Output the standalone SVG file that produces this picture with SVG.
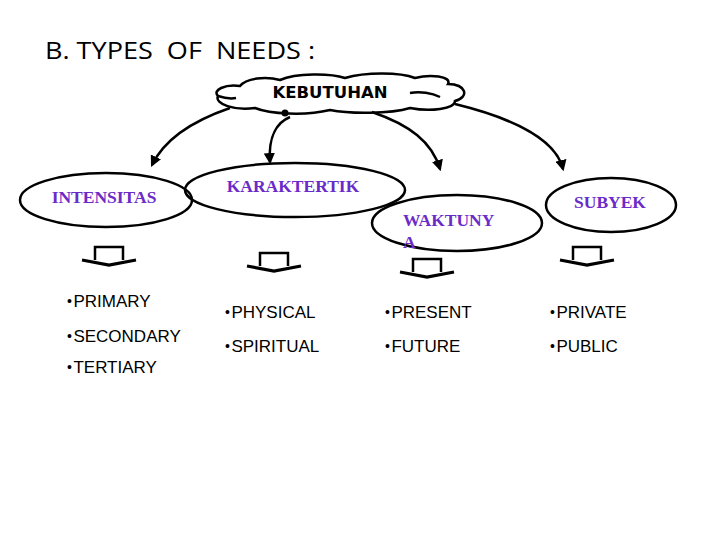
<svg xmlns="http://www.w3.org/2000/svg" width="720" height="540" viewBox="0 0 720 540">
<defs>
<marker id="ah" viewBox="0 0 10 10" refX="8" refY="5" markerWidth="4.5" markerHeight="4.5" orient="auto" markerUnits="strokeWidth">
<path d="M0,0 L10,5 L0,10 Z" fill="#000"/>
</marker>
<g id="blk">
<path d="M-14,0 V-13 H14 V0" fill="none" stroke="#000" stroke-width="2.5"/>
<path d="M-27,0 L0,5 L27,0" fill="none" stroke="#000" stroke-width="3.2"/>
</g>
</defs>
<style>
.ell{fill:none;stroke:#000;stroke-width:2.5}
.lbl{font-family:"Liberation Serif","Times New Roman",serif;font-weight:bold;font-size:17.5px;fill:#6a2bc8}
.item{font-family:"Liberation Sans",Arial,sans-serif;font-size:17px;fill:#000}
.b{font-size:14px}
.con{fill:none;stroke:#000;stroke-width:2.5;marker-end:url(#ah)}
</style>
<rect width="720" height="540" fill="#fff"/>
<text x="45" y="59" font-family="'Open Sans','Liberation Sans',sans-serif" font-size="24" textLength="270" lengthAdjust="spacingAndGlyphs" fill="#000" xml:space="preserve">B. TYPES  OF  NEEDS :</text>

<g id="kebutuhan">
<path d="M240,86 C246,78 266,76 280,80 C296,73 330,73 345,78 C365,72 400,72 415,78 C430,74 452,76 448,84 C466,84 470,97 455,101 C455,109 430,112 410,108 C390,114 350,114 330,110 C305,116 270,114 255,108 C235,111 214,104 218,96 C212,90 225,84 240,86 Z" fill="#fff" stroke="#000" stroke-width="2.5"/>
<path d="M410,93 C420,91 432,93 440,97" fill="none" stroke="#000" stroke-width="2.5"/>
<path d="M218,96 C224,98 230,99 236,98" fill="none" stroke="#000" stroke-width="2.5"/>
<text x="330" y="98" text-anchor="middle" font-family="'DejaVu Sans',Verdana,sans-serif" font-weight="bold" font-size="16" textLength="115" lengthAdjust="spacingAndGlyphs" fill="#000">KEBUTUHAN</text>
<circle cx="285" cy="113" r="3.5" fill="#000"/>
</g>

<g id="connectors">
<path class="con" d="M230,108 C195,120 165,138 152,165"/>
<path class="con" d="M290,117 C278,122 268,135 270,162"/>
<path class="con" d="M372,112 C410,125 432,142 440,169"/>
<path class="con" d="M455,104 C500,115 555,135 563,169"/>
</g>

<g id="intensitas">
<ellipse class="ell" cx="106" cy="200" rx="86" ry="27"/>
<text class="lbl" x="104" y="203" text-anchor="middle">INTENSITAS</text>
</g>
<g id="karaktertik">
<ellipse class="ell" cx="295" cy="190" rx="110" ry="27"/>
<text class="lbl" x="293" y="192" text-anchor="middle">KARAKTERTIK</text>
</g>
<g id="waktunya">
<ellipse class="ell" cx="457" cy="223" rx="85" ry="28"/>
<text class="lbl" x="403" y="226">WAKTUNY</text>
<text class="lbl" x="403" y="248">A</text>
</g>
<g id="subyek">
<ellipse class="ell" cx="611" cy="205" rx="65" ry="27"/>
<text class="lbl" x="610" y="208" text-anchor="middle">SUBYEK</text>
</g>

<g id="arrows">
<use href="#blk" x="109" y="260"/>
<use href="#blk" x="274" y="266"/>
<use href="#blk" x="427" y="272"/>
<use href="#blk" x="587" y="260"/>
</g>

<g id="lists">
<text class="item" x="67" y="307"><tspan class="b" dy="-1">•</tspan><tspan dx="1.5" dy="1">PRIMARY</tspan></text>
<text class="item" x="67" y="342"><tspan class="b" dy="-1">•</tspan><tspan dx="1.5" dy="1">SECONDARY</tspan></text>
<text class="item" x="67" y="373"><tspan class="b" dy="-1">•</tspan><tspan dx="1.5" dy="1">TERTIARY</tspan></text>
<text class="item" x="225" y="318"><tspan class="b" dy="-1">•</tspan><tspan dx="1.5" dy="1">PHYSICAL</tspan></text>
<text class="item" x="225" y="352"><tspan class="b" dy="-1">•</tspan><tspan dx="1.5" dy="1">SPIRITUAL</tspan></text>
<text class="item" x="385" y="318"><tspan class="b" dy="-1">•</tspan><tspan dx="1.5" dy="1">PRESENT</tspan></text>
<text class="item" x="385" y="352"><tspan class="b" dy="-1">•</tspan><tspan dx="1.5" dy="1">FUTURE</tspan></text>
<text class="item" x="550" y="318"><tspan class="b" dy="-1">•</tspan><tspan dx="1.5" dy="1">PRIVATE</tspan></text>
<text class="item" x="550" y="352"><tspan class="b" dy="-1">•</tspan><tspan dx="1.5" dy="1">PUBLIC</tspan></text>
</g>
</svg>
